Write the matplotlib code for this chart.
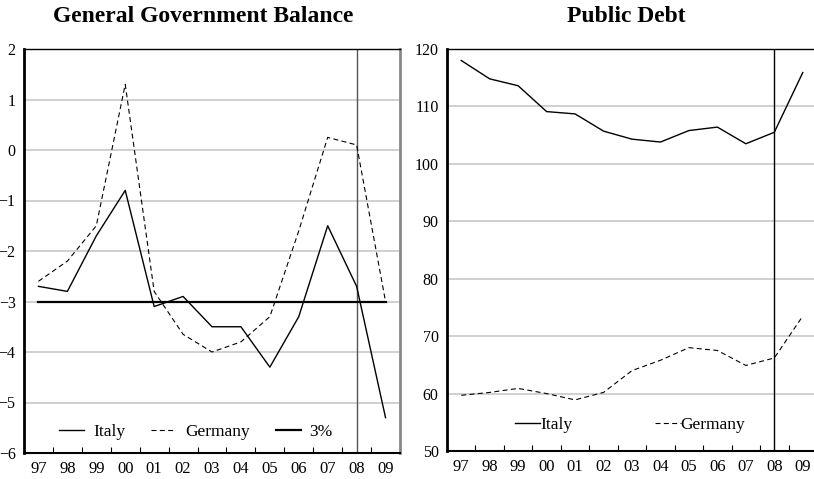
import matplotlib
matplotlib.use("Agg")
import matplotlib.pyplot as plt

plt.rcParams['font.family'] = ['Liberation Serif', 'DejaVu Serif']

years = ["97", "98", "99", "00", "01", "02", "03", "04", "05", "06", "07", "08", "09"]

# General government balance (% of GDP)
bal_italy = [-2.7, -2.8, -1.7, -0.8, -3.1, -2.9, -3.5, -3.5, -4.3, -3.3, -1.5, -2.7, -5.3]
bal_germany = [-2.6, -2.2, -1.5, 1.3, -2.8, -3.65, -4.0, -3.8, -3.3, -1.6, 0.25, 0.1, -3.0]
limit = [-3.0] * len(years)

# Public debt (% of GDP)
debt_italy = [118.0, 114.8, 113.6, 109.1, 108.7, 105.7, 104.3, 103.8, 105.8, 106.4, 103.5, 105.5, 115.9]
debt_germany = [59.7, 60.2, 60.9, 60.0, 58.9, 60.2, 64.0, 65.8, 68.0, 67.5, 64.9, 66.2, 73.5]

x = list(range(len(years)))

fig = plt.figure(figsize=(8.14, 4.79), dpi=100)
ax1 = fig.add_axes([24/814, 1-453/479, 376/814, 404/479])
ax2 = fig.add_axes([447/814, 1-451/479, 370/814, 402/479])


def style_axes(ax, yticks, ylim, right_col):
    ax.set_xlim(-0.5, len(years) - 0.5)
    ax.set_ylim(*ylim)
    ax.set_yticks(yticks)
    ax.set_xticks(x)
    ax.set_xticklabels(years)
    ax.set_xticks([i + 0.5 for i in x[:-1]], minor=True)
    ax.tick_params(axis='x', which='major', length=0, pad=6, labelsize=12)
    ax.tick_params(axis='x', which='minor', direction='in', length=4, width=0.8)
    ax.tick_params(axis='y', length=0, pad=6, labelsize=11.5)
    ax.grid(axis='y', color='#c8c8c8', lw=1.2)
    ax.set_axisbelow(True)
    ax.spines['left'].set_linewidth(2)
    ax.spines['bottom'].set_linewidth(1.5)
    ax.spines['top'].set_linewidth(1)
    ax.spines['right'].set_linewidth(2)
    ax.spines['right'].set_color(right_col)


# left panel
style_axes(ax1, range(-6, 3), (-6, 2), '#888888')
ax1.axvline(11, color='#555555', lw=1)
ax1.plot(x, bal_italy, color='black', lw=1.0, label='Italy')
ax1.plot(x, bal_germany, color='black', lw=0.8, dashes=(4.5, 3), label='Germany')
ax1.plot(x, limit, color='black', lw=1.6, label='3%')
ax1.legend(loc='center', bbox_to_anchor=((196 - 24) / 376, 1 - (431.7 - 49) / 404),
           ncol=3, frameon=False, fontsize=12.5, handlelength=1.45,
           handletextpad=0.5, columnspacing=1.5)

# right panel
style_axes(ax2, range(50, 121, 10), (50, 120), 'black')
ax2.axvline(11, color='black', lw=1)
ax2.plot(x, debt_italy, color='black', lw=1.0, label='Italy')
ax2.plot(x, debt_germany, color='black', lw=0.8, dashes=(4.5, 3), label='Germany')
ax2.legend(loc='center', bbox_to_anchor=((630 - 447) / 370, 1 - (425 - 49) / 402),
           ncol=2, frameon=False, fontsize=12.5, handlelength=1.45,
           handletextpad=0.0, columnspacing=4.8)

fig.text(203.5/814, 1-17/479, 'General Government Balance', ha='center', va='center',
         fontsize=17, fontweight='bold')
fig.text(626.7/814, 1-17/479, 'Public Debt', ha='center', va='center',
         fontsize=17, fontweight='bold')

fig.savefig('out.png', dpi=100)
